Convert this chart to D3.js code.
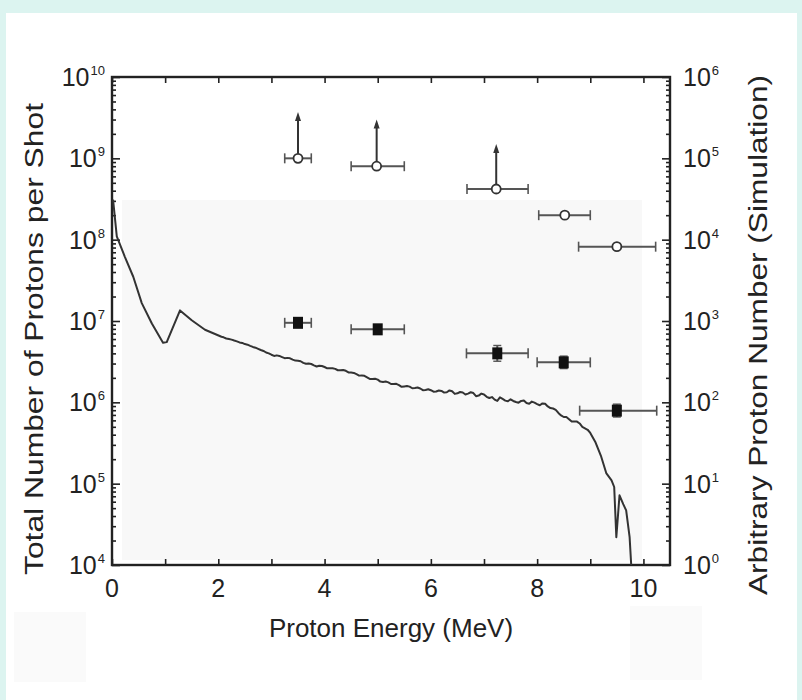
<!DOCTYPE html>
<html>
<head>
<meta charset="utf-8">
<script src="https://cdn.jsdelivr.net/npm/d3@7"></script>
<style>
  html, body { margin: 0; padding: 0; background: #dcf4f0; }
  svg { display: block; }
  text { font-family: "Liberation Sans", Arial, sans-serif; fill: #222; }
</style>
</head>
<body>
<svg id="chart" width="802" height="700"></svg>
<script>
// Simulated proton spectrum (arbitrary proton number vs energy, MeV)
const simEnergy = [0.02, 0.09, 0.24, 0.40, 0.56, 0.75, 0.96, 1.03, 1.28, 1.50, 1.75, 2.06,
  2.1, 2.15, 2.2, 2.25, 2.3, 2.35, 2.4, 2.45, 2.5, 2.55, 2.6, 2.65, 2.7, 2.75, 2.8, 2.85, 2.9, 2.95,
  3.0, 3.05, 3.1, 3.15, 3.2, 3.25, 3.3, 3.35, 3.4, 3.45, 3.5, 3.55, 3.6, 3.65, 3.7, 3.75, 3.8, 3.85, 3.9, 3.95,
  4.0, 4.05, 4.1, 4.15, 4.2, 4.25, 4.3, 4.35, 4.4, 4.45, 4.5, 4.55, 4.6, 4.65, 4.7, 4.75, 4.8, 4.85, 4.9, 4.95,
  5.0, 5.05, 5.1, 5.15, 5.2, 5.25, 5.3, 5.35, 5.4, 5.45, 5.5, 5.55, 5.6, 5.65, 5.7, 5.75, 5.8, 5.85, 5.9, 5.95,
  6.0, 6.05, 6.1, 6.15, 6.2, 6.25, 6.3, 6.35, 6.4, 6.45, 6.5, 6.55, 6.6, 6.65, 6.7, 6.75, 6.8, 6.85, 6.9, 6.95,
  7.0, 7.05, 7.1, 7.15, 7.2, 7.25, 7.3, 7.35, 7.4, 7.45, 7.5, 7.55, 7.6, 7.65, 7.7, 7.75, 7.8, 7.85, 7.9, 7.95,
  8.0, 8.05, 8.1, 8.15, 8.2, 8.25, 8.3, 8.35, 8.4, 8.45, 8.5, 8.55, 8.6, 8.65, 8.7, 8.75, 8.8, 8.85, 8.9, 8.95,
  9.0, 9.1, 9.2, 9.3, 9.4, 9.45, 9.49, 9.55, 9.62, 9.675, 9.74, 9.77];
const simCount = [31000, 11000, 6200, 3500, 1660, 930, 540, 550, 1350, 1020, 780, 640,
  630, 610, 600, 590, 575, 562, 545, 538, 520, 512, 495, 480, 470, 455, 440, 428, 410, 400,
  385, 372, 378, 372, 360, 349, 352, 348, 335, 326, 325, 320, 306, 298, 300, 296, 285, 276, 282, 280,
  272, 262, 262, 263, 258, 248, 248, 250, 244, 233, 232, 230, 222, 213, 214, 212, 203, 194, 194, 195,
  190, 180, 178, 180, 176, 168, 168, 169, 163, 155, 157, 159, 156, 149, 150, 152, 148, 141, 142, 145,
  141, 135, 136, 140, 138, 132, 133, 140, 137, 127, 129, 134, 132, 125, 128, 133, 130, 119, 121, 128,
  125, 117, 113, 116, 108, 104, 115, 110, 105, 103, 109, 104, 101, 99, 104, 105, 98, 96, 102, 99,
  95, 92, 97, 96, 89, 85, 84, 81, 74, 69, 66, 66, 62, 58, 58, 58, 55, 50, 48, 46,
  42, 32, 22, 13.5, 11, 9.1, 2.2, 7.2, 5.6, 4.7, 2.2, 1.0];

// Measured protons per shot (filled squares)
const expEnergy = [3.5, 5.0, 7.25, 8.5, 9.5];
const expEnergyLo = [3.25, 4.5, 6.67, 8.0, 8.8];
const expEnergyHi = [3.75, 5.5, 7.83, 9.0, 10.25];
const expCount = [9.5e6, 7.9e6, 4.0e6, 3.1e6, 7.9e5];
const expCountLo = [8.6e6, 7.3e6, 3.2e6, 2.6e6, 6.6e5];
const expCountHi = [1.05e7, 8.6e6, 5.0e6, 3.7e6, 9.5e5];

// Lower-limit estimates (open circles, arrows mark lower limits)
const limEnergy = [3.5, 4.98, 7.23, 8.52, 9.5];
const limEnergyLo = [3.25, 4.5, 6.68, 8.03, 8.78];
const limEnergyHi = [3.75, 5.5, 7.83, 9.0, 10.23];
const limCount = [1.0e9, 8.0e8, 4.2e8, 2.0e8, 8.2e7];
const limArrowTip = [3.7e9, 3.0e9, 1.5e9, null, null];

// Axis ticks
const xTicks = [0, 2, 4, 6, 8, 10];
const xMinorTicks = [1, 3, 5, 7, 9];
const leftExponents = [4, 5, 6, 7, 8, 9, 10];
const rightExponents = [0, 1, 2, 3, 4, 5, 6];

const svg = d3.select("#chart");
const ink = "#222";

// Page panel
svg.append("rect").attr("x", 6).attr("y", 13).attr("width", 791).attr("height", 687).attr("fill", "#fff");
svg.append("rect").attr("x", 14).attr("y", 612).attr("width", 72).attr("height", 70).attr("fill", "#fafafa");
svg.append("rect").attr("x", 630).attr("y", 606).attr("width", 72).attr("height", 74).attr("fill", "#fafafa");

const L = 112, R = 670, T = 77, B = 565;
const x = d3.scaleLinear().domain([0, 10.5]).range([L, R]);
const yL = d3.scaleLog().domain([1e4, 1e10]).range([B, T]);
const yR = d3.scaleLog().domain([1, 1e6]).range([B, T]);

// faint shaded inner area
svg.append("rect").attr("x", 122).attr("y", 200).attr("width", 520).attr("height", 360).attr("fill", "#f8f8f8");

// minor log ticks
function minorLog(lo, hi) {
  const out = [];
  for (let e = lo; e < hi; e++) for (let m = 2; m <= 9; m++) out.push(m * Math.pow(10, e));
  return out;
}

function styleAxis(g) {
  g.select(".domain").remove();
  g.selectAll(".tick line").attr("stroke", ink).attr("stroke-width", 1.6);
}

// left axis (ticks inward)
svg.append("g").attr("transform", `translate(${L},0)`)
  .call(d3.axisRight(yL).tickValues(leftExponents.map(e => Math.pow(10, e))).tickSize(8).tickFormat(""))
  .call(styleAxis);
svg.append("g").attr("transform", `translate(${L},0)`)
  .call(d3.axisRight(yL).tickValues(minorLog(4, 10)).tickSize(4).tickFormat(""))
  .call(styleAxis);
// right axis (ticks inward)
svg.append("g").attr("transform", `translate(${R},0)`)
  .call(d3.axisLeft(yR).tickValues(rightExponents.map(e => Math.pow(10, e))).tickSize(8).tickFormat(""))
  .call(styleAxis);
svg.append("g").attr("transform", `translate(${R},0)`)
  .call(d3.axisLeft(yR).tickValues(minorLog(0, 6)).tickSize(4).tickFormat(""))
  .call(styleAxis);
// bottom and top axes (ticks inward)
svg.append("g").attr("transform", `translate(0,${B})`)
  .call(d3.axisTop(x).tickValues(xTicks.concat(xMinorTicks)).tickSize(6).tickFormat(""))
  .call(styleAxis);
svg.append("g").attr("transform", `translate(0,${T})`)
  .call(d3.axisBottom(x).tickValues(xTicks.concat(xMinorTicks)).tickSize(6).tickFormat(""))
  .call(styleAxis);

// frame
svg.append("rect").attr("x", L).attr("y", T).attr("width", R - L).attr("height", B - T)
  .attr("fill", "none").attr("stroke", ink).attr("stroke-width", 2.4);

// tick labels
const tickFont = 25;
svg.append("g").selectAll("text").data(xTicks).join("text")
  .attr("x", d => x(d)).attr("y", B + 32).attr("text-anchor", "middle")
  .attr("font-size", tickFont).text(d => d);

function powLabel(g, exps, scale, anchorX, alignRight) {
  const t = g.selectAll("text").data(exps).join("text")
    .attr("y", e => scale(Math.pow(10, e)) + 9)
    .attr("font-size", tickFont);
  t.attr("x", anchorX).attr("text-anchor", alignRight ? "end" : "start");
  t.append("tspan").text("10");
  t.append("tspan").attr("dy", -11).attr("font-size", 13).attr("dx", 1).text(e => e);
}
powLabel(svg.append("g"), leftExponents, yL, L - 7, true);
powLabel(svg.append("g"), rightExponents, yR, R + 13, false);

// axis titles
svg.append("text").attr("x", 391).attr("y", 637).attr("text-anchor", "middle")
  .attr("font-size", 26).text("Proton Energy (MeV)");
svg.append("text").attr("transform", "translate(43,339) rotate(-90)").attr("text-anchor", "middle")
  .attr("font-size", 26).attr("textLength", 472).attr("lengthAdjust", "spacingAndGlyphs")
  .text("Total Number of Protons per Shot");
svg.append("text").attr("transform", "translate(767,335) rotate(-90)").attr("text-anchor", "middle")
  .attr("font-size", 26).attr("textLength", 520).attr("lengthAdjust", "spacingAndGlyphs")
  .text("Arbitrary Proton Number (Simulation)");

// simulated spectrum
const simPts = simEnergy.map((e, i) => [e, simCount[i]]);
svg.append("path").datum(simPts)
  .attr("d", d3.line().x(d => x(d[0])).y(d => yR(d[1])))
  .attr("fill", "none").attr("stroke", "#333").attr("stroke-width", 2).attr("stroke-linejoin", "round");

// error bars helper
const barColor = "#555";
function hBar(g, xs0, xs1, ys) {
  g.append("line").attr("x1", x(xs0)).attr("x2", x(xs1)).attr("y1", ys).attr("y2", ys)
    .attr("stroke", barColor).attr("stroke-width", 2);
  [xs0, xs1].forEach(v => g.append("line").attr("x1", x(v)).attr("x2", x(v))
    .attr("y1", ys - 5).attr("y2", ys + 5).attr("stroke", barColor).attr("stroke-width", 1.6));
}

// measured points
const expG = svg.append("g");
expEnergy.forEach((e, i) => {
  const cy = yL(expCount[i]);
  hBar(expG, expEnergyLo[i], expEnergyHi[i], cy);
  expG.append("line").attr("x1", x(e)).attr("x2", x(e))
    .attr("y1", yL(expCountLo[i])).attr("y2", yL(expCountHi[i]))
    .attr("stroke", barColor).attr("stroke-width", 2);
  [expCountLo[i], expCountHi[i]].forEach(v => expG.append("line")
    .attr("x1", x(e) - 4).attr("x2", x(e) + 4).attr("y1", yL(v)).attr("y2", yL(v))
    .attr("stroke", barColor).attr("stroke-width", 1.4));
  expG.append("rect").attr("x", x(e) - 5).attr("y", cy - 6).attr("width", 10).attr("height", 12)
    .attr("fill", "#111");
});

// lower-limit points
const limG = svg.append("g");
limEnergy.forEach((e, i) => {
  const cy = yL(limCount[i]);
  hBar(limG, limEnergyLo[i], limEnergyHi[i], cy);
  if (limArrowTip[i] !== null) {
    const ty = yL(limArrowTip[i]);
    limG.append("line").attr("x1", x(e)).attr("x2", x(e)).attr("y1", cy).attr("y2", ty + 4)
      .attr("stroke", "#333").attr("stroke-width", 2);
    limG.append("path")
      .attr("d", `M${x(e)},${ty} L${x(e) - 3},${ty + 9} L${x(e) + 3},${ty + 9} Z`)
      .attr("fill", "#333");
  }
  limG.append("circle").attr("cx", x(e)).attr("cy", cy).attr("r", 4.5)
    .attr("fill", "#fff").attr("stroke", "#333").attr("stroke-width", 1.8);
});
</script>
</body>
</html>
